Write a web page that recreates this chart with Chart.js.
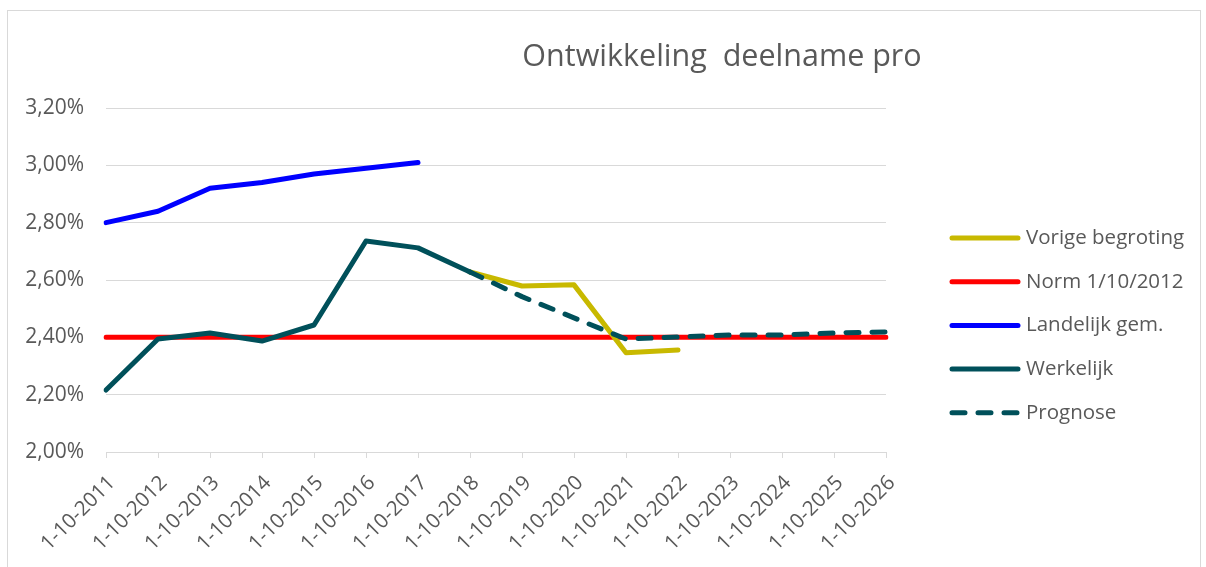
<!DOCTYPE html>
<html>
<head>
<meta charset="utf-8">
<script src="https://cdn.jsdelivr.net/npm/chart.js@4.4.1/dist/chart.umd.min.js"></script>
<style>
  body { margin: 0; background: #fff; }
  #frame { position: absolute; left: 7px; top: 10px; width: 1192px; height: 600px; border: 1px solid #d9d9d9; }
  #wrap { position: absolute; left: 0; top: 0; width: 1206px; height: 567px; }
</style>
</head>
<body>
<div id="frame"></div>
<div id="wrap"><canvas id="deelnameChart"></canvas></div>
<script>
// Data (percentages)
const categories = ['1-10-2011', '1-10-2012', '1-10-2013', '1-10-2014', '1-10-2015', '1-10-2016', '1-10-2017', '1-10-2018',
    '1-10-2019', '1-10-2020', '1-10-2021', '1-10-2022', '1-10-2023', '1-10-2024', '1-10-2025', '1-10-2026'];
const vorigeBegroting = [null, null, null, null, null, null, null, 2.628, 2.579, 2.583, 2.346, 2.356, null, null, null, null];
const norm = [2.40, 2.40, 2.40, 2.40, 2.40, 2.40, 2.40, 2.40, 2.40, 2.40, 2.40, 2.40, 2.40, 2.40, 2.40, 2.40];
const landelijk = [2.80, 2.84, 2.92, 2.94, 2.97, 2.99, 3.01, null, null, null, null, null, null, null, null, null];
const werkelijk = [2.216, 2.394, 2.415, 2.387, 2.443, 2.736, 2.712, 2.628, null, null, null, null, null, null, null, null];
const prognose = [null, null, null, null, null, null, null, 2.628, 2.542, 2.468, 2.394, 2.401, 2.408, 2.408, 2.415, 2.419];
const yTicks = [2.00, 2.20, 2.40, 2.60, 2.80, 3.00, 3.20];

const textColor = '#595959';
const gridColor = '#d9d9d9';
const fontFamily = '"Open Sans", sans-serif';

// Title and legend drawn by hand to match the Excel layout
const extras = {
    id: 'extras',
    afterDraw(chart) {
        const c = chart.ctx;
        const area = chart.chartArea;
        c.save();
        c.fillStyle = textColor;
        c.font = '30.5px ' + fontFamily;
        c.textAlign = 'center';
        c.textBaseline = 'alphabetic';
        c.fillText('Ontwikkeling  deelname pro', 722, 66);

        // legend
        const x0 = area.right + 63;
        let y = 238;
        c.font = '20.5px ' + fontFamily;
        c.textAlign = 'left';
        c.textBaseline = 'middle';
        chart.data.datasets.forEach(ds => {
            c.beginPath();
            c.strokeStyle = ds.borderColor;
            c.lineWidth = ds.borderWidth;
            c.lineCap = 'round';
            c.setLineDash(ds.borderDash || []);
            c.moveTo(x0 + 3, y);
            c.lineTo(x0 + 69, y);
            c.stroke();
            c.setLineDash([]);
            c.fillText(ds.label, x0 + 77, y);
            y += 43.7;
        });
        c.restore();
    }
};

const ctx = document.getElementById('deelnameChart').getContext('2d');
const deelnameChart = new Chart(ctx, {
    type: 'line',
    data: {
        labels: categories,
        datasets: [
            { label: 'Vorige begroting', data: vorigeBegroting, borderColor: '#c8b900', order: 2 },
            { label: 'Norm 1/10/2012', data: norm, borderColor: '#ff0000', order: 4 },
            { label: 'Landelijk gem.', data: landelijk, borderColor: '#0000ff', order: 3 },
            { label: 'Werkelijk', data: werkelijk, borderColor: '#00505a', order: 1 },
            { label: 'Prognose', data: prognose, borderColor: '#00505a', borderDash: [13, 13], order: 0 }
        ].map(ds => Object.assign({
            borderWidth: 5,
            pointRadius: 0,
            fill: false,
            tension: 0,
            spanGaps: false,
            borderCapStyle: 'round',
            borderJoinStyle: 'round'
        }, ds))
    },
    options: {
        responsive: true,
        maintainAspectRatio: false,
        animation: false,
        layout: { padding: { top: 108, right: 320, left: 0, bottom: 0 } },
        plugins: {
            legend: { display: false },
            title: { display: false },
            tooltip: { enabled: false }
        },
        scales: {
            x: {
                offset: false,
                grid: { display: true, drawOnChartArea: false, drawTicks: true, tickLength: 6, color: gridColor },
                border: { display: true, color: gridColor, width: 1 },
                ticks: {
                    autoSkip: false, minRotation: 45, maxRotation: 45, padding: 13, labelOffset: 6,
                    color: textColor, font: { family: fontFamily, size: 20.5 }
                },
                afterFit(scale) { scale.height = 115; }
            },
            y: {
                min: yTicks[0],
                max: yTicks[yTicks.length - 1],
                afterBuildTicks(scale) { scale.ticks = yTicks.map(v => ({ value: v })); },
                grid: { color: gridColor, drawTicks: false },
                border: { display: false },
                ticks: {
                    padding: 22,
                    color: textColor,
                    font: { family: fontFamily, size: 21 },
                    callback: v => v.toFixed(2).replace('.', ',') + '%'
                },
                afterFit(scale) { scale.width = 106; }
            }
        }
    },
    plugins: [extras]
});
</script>
</body>
</html>
